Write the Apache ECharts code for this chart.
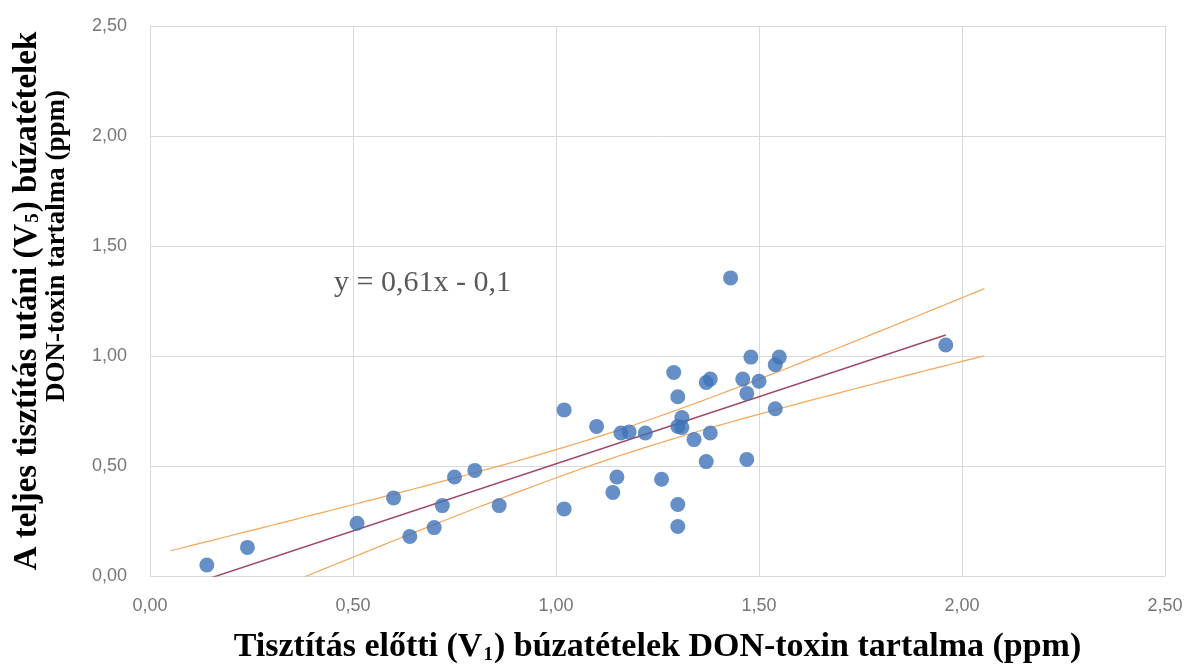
<!DOCTYPE html>
<html>
<head>
<meta charset="utf-8">
<style>html,body{margin:0;padding:0;background:#fff}#c{width:1187px;height:664px}</style>
<script src="https://cdn.jsdelivr.net/npm/echarts@6/dist/echarts.min.js"></script>
</head>
<body>
<div id="c"></div>
<script>
// ---- data ----
const v1Values = [0.14,0.24,0.51,0.60,0.64,0.70,0.72,0.75,0.80,0.86,1.02,1.02,1.10,1.15,1.14,1.16,1.18,1.22,1.26,1.29,1.30,1.31,1.30,1.31,1.30,1.30,1.34,1.37,1.38,1.38,1.37,1.43,1.46,1.47,1.47,1.48,1.50,1.54,1.55,1.54,1.96];
const v5Values = [0.05,0.13,0.24,0.355,0.18,0.22,0.32,0.45,0.48,0.32,0.755,0.305,0.68,0.45,0.38,0.65,0.655,0.65,0.44,0.925,0.815,0.72,0.68,0.675,0.325,0.225,0.62,0.88,0.895,0.65,0.52,1.355,0.895,0.83,0.53,0.995,0.885,0.96,0.995,0.76,1.05];
const slope = 0.61;
const intercept = -0.1;
const bandDomain = [0.05, 2.055];
const tCrit = 2.023; // t(0.975, df=39)
const axisTicks = [0, 0.5, 1, 1.5, 2, 2.5];
const equationLabel = 'y = 0,61x - 0,1';
const xTitle = '{t|Tisztítás előtti (V}{s|1}{t|) búzatételek DON-toxin tartalma (ppm)}';
const yTitle = '{a|A teljes tisztítás utáni (V}{as|5}{a|) búzatételek}\n{b|DON-toxin tartalma (ppm)}';

// ---- derived ----
const points = v1Values.map((x, i) => [x, v5Values[i]]);
const n = points.length;
const xbar = v1Values.reduce((a, b) => a + b, 0) / n;
const sxx = v1Values.reduce((a, x) => a + (x - xbar) * (x - xbar), 0);
const sse = points.reduce((a, p) => { const r = p[1] - (slope * p[0] + intercept); return a + r * r; }, 0);
const s = Math.sqrt(sse / (n - 2));
const xmin = Math.min(...v1Values), xmax = Math.max(...v1Values);
const trend = [[xmin, slope * xmin + intercept], [xmax, slope * xmax + intercept]];
const upper = [], lower = [];
const steps = 80;
for (let i = 0; i <= steps; i++) {
  const x = bandDomain[0] + (bandDomain[1] - bandDomain[0]) * i / steps;
  const yhat = slope * x + intercept;
  const h = tCrit * s * Math.sqrt(1 / n + (x - xbar) * (x - xbar) / sxx);
  upper.push([x, yhat + h]);
  lower.push([x, yhat - h]);
}
const fmt = v => v.toFixed(2).replace('.', ',');
const serif = 'Liberation Serif, Times New Roman, serif';
const tickFont = {formatter: fmt, fontFamily: 'Liberation Sans, Arial, sans-serif', fontSize: 18, color: '#767676'};

const chart = echarts.init(document.getElementById('c'), null, {renderer: 'canvas'});
chart.setOption({
  backgroundColor: '#ffffff',
  animation: false,
  grid: {left: 150, right: 22, top: 26, bottom: 88, containLabel: false, outerBoundsMode: 'none'},
  title: [{
    text: equationLabel, left: 329, top: 263,
    textStyle: {fontFamily: serif, fontSize: 30, fontWeight: 'normal', color: '#595959'}
  }],
  xAxis: {
    type: 'value', min: 0, max: 2.5, interval: 0.5,
    name: xTitle, nameLocation: 'middle', nameGap: 54,
    nameTextStyle: {
      rich: {
        t: {fontFamily: serif, fontSize: 34, fontWeight: 'bold', color: '#000'},
        s: {fontFamily: serif, fontSize: 19, fontWeight: 'bold', color: '#000', padding: [16, 1, 0, 1]}
      }
    },
    axisLine: {show: true, lineStyle: {color: '#d9d9d9', width: 1}},
    axisTick: {show: false},
    splitLine: {show: true, lineStyle: {color: '#d9d9d9', width: 1}},
    axisLabel: Object.assign({margin: 21}, tickFont)
  },
  yAxis: {
    type: 'value', min: 0, max: 2.5, interval: 0.5,
    name: yTitle, nameLocation: 'middle', nameGap: 78, nameRotate: 90,
    nameTextStyle: {
      lineHeight: 30,
      rich: {
        a: {fontFamily: serif, fontSize: 33, fontWeight: 'bold', color: '#000', lineHeight: 30},
        as: {fontFamily: serif, fontSize: 19, fontWeight: 'bold', color: '#000', lineHeight: 30, padding: [12, 1, 0, 1]},
        b: {fontFamily: serif, fontSize: 27, fontWeight: 'bold', color: '#000', lineHeight: 30, padding: [0, 0, 0, 110]}
      }
    },
    axisLine: {show: true, lineStyle: {color: '#d9d9d9', width: 1}},
    axisTick: {show: false},
    splitLine: {show: true, lineStyle: {color: '#d9d9d9', width: 1}},
    axisLabel: Object.assign({margin: 23}, tickFont)
  },
  series: [
    {type: 'line', data: upper, showSymbol: false, symbol: 'none', clip: true, lineStyle: {color: '#f4a65a', width: 1.2}, z: 2},
    {type: 'line', data: lower, showSymbol: false, symbol: 'none', clip: true, lineStyle: {color: '#f4a65a', width: 1.2}, z: 2},
    {type: 'line', data: trend, showSymbol: false, symbol: 'none', clip: true, lineStyle: {color: '#a04a62', width: 1.5}, z: 3},
    {type: 'scatter', data: points, symbol: 'circle', symbolSize: 15, itemStyle: {color: '#3f73b8'}, z: 4}
  ]
});
</script>
</body>
</html>
